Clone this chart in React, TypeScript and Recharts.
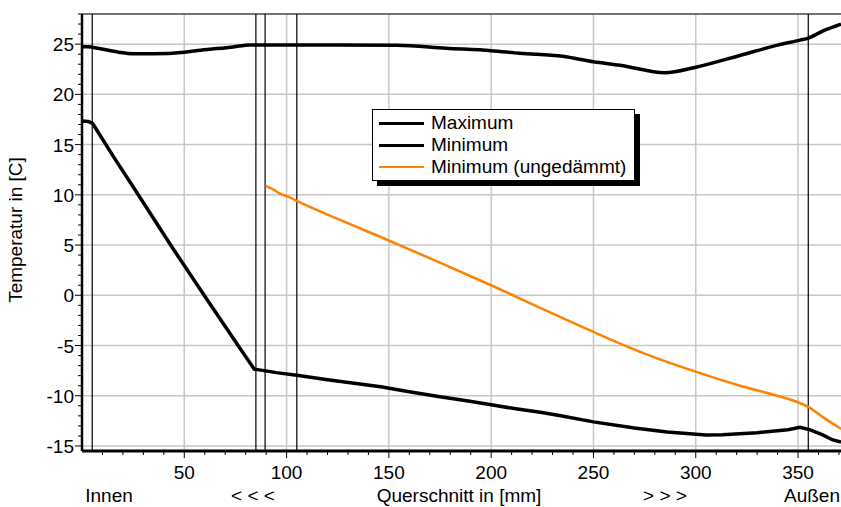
import React from "react";
import {
  LineChart,
  Line,
  XAxis,
  YAxis,
  ReferenceLine,
  Legend,
} from "recharts";

// ─── Data ───────────────────────────────────────────────────────────────────

const maxPos = [0, 3, 5, 9, 18, 25, 35, 50, 58, 74, 82, 100, 125, 154, 178, 200, 214, 235, 250, 263, 285, 300, 322, 340, 351, 355, 362, 371];
const maxTemp = [24.75, 24.75, 24.7, 24.55, 24.2, 24.05, 24.05, 24.2, 24.4, 24.72, 24.92, 24.92, 24.92, 24.9, 24.6, 24.35, 24.1, 23.8, 23.25, 22.9, 22.15, 22.7, 23.9, 24.9, 25.4, 25.6, 26.3, 27.0];

const minPos = [0, 3, 5.2, 16, 27.2, 43, 59.7, 76.3, 84.2, 89, 95, 105, 120, 146, 160, 175, 188, 200, 212, 224, 234, 250, 270, 286, 305, 313, 330, 345, 351, 356, 362, 367, 371];
const minTemp = [17.35, 17.3, 17.1, 13.6, 10.1, 5.1, 0, -5, -7.35, -7.5, -7.7, -7.95, -8.4, -9.1, -9.6, -10.1, -10.5, -10.9, -11.3, -11.65, -12.0, -12.6, -13.2, -13.6, -13.9, -13.88, -13.68, -13.38, -13.15, -13.4, -13.9, -14.4, -14.6];

const bareMinPos = [89.7, 93, 97, 101, 105, 125, 146, 175, 200, 225, 250, 275, 300, 320, 338, 345, 350, 355, 362, 371];
const bareMinTemp = [10.9, 10.6, 10.1, 9.8, 9.4, 7.6, 5.8, 3.25, 1.0, -1.35, -3.65, -5.8, -7.6, -8.9, -9.9, -10.3, -10.65, -11.1, -12.1, -13.3];

// layer boundaries of the wall cross-section [mm]
const layerBounds = [5, 85, 89.5, 105, 355];

const xLabels = [50, 100, 150, 200, 250, 300, 350];
const yLabels = [-15, -10, -5, 0, 5, 10, 15, 20, 25];
const xMinorTicks = Array.from({ length: 37 }, (_, i) => (i + 1) * 10);
const yMinorTicks = Array.from({ length: 44 }, (_, i) => i - 15);

const bottomLabels = ["Innen", "< < <", "Querschnitt in [mm]", "> > >", "Außen"];
const bottomLabelOffsets = [27, 171, 377, 583, 730];

const toPoints = (xs: number[], ys: number[]) => xs.map((x, i) => ({ x, y: ys[i] }));

const maxData = toPoints(maxPos, maxTemp);
const minData = toPoints(minPos, minTemp);
const bareMinData = toPoints(bareMinPos, bareMinTemp);

const FONT = "'Liberation Sans', Arial, sans-serif";
const ORANGE = "#ff8200";

// ─── Ticks & labels ─────────────────────────────────────────────────────────

function XTick({ x, y, payload }: any) {
  const major = xLabels.includes(payload.value);
  return (
    <g>
      <line x1={x} x2={x} y1={y} y2={y + (major ? 7 : 4)} stroke="#000" strokeWidth={1} />
      {major && (
        <text x={x} y={y + 28} textAnchor="middle" fontFamily={FONT} fontSize={19} fill="#000">
          {payload.value}
        </text>
      )}
    </g>
  );
}

function YTick({ x, y, payload }: any) {
  const major = yLabels.includes(payload.value);
  return (
    <g>
      <line x1={x - (major ? 7 : 4)} x2={x} y1={y} y2={y} stroke="#000" strokeWidth={1} />
      {major && (
        <text x={x - 8} y={y + 7} textAnchor="end" fontFamily={FONT} fontSize={19} fill="#000">
          {payload.value}
        </text>
      )}
    </g>
  );
}

function BottomRow({ viewBox }: any) {
  const { x, y } = viewBox;
  return (
    <g>
      {bottomLabels.map((t, i) => (
        <text key={t} x={x + bottomLabelOffsets[i]} y={y + 51} textAnchor="middle" fontFamily={FONT} fontSize={19} fill="#000">
          {t}
        </text>
      ))}
    </g>
  );
}

function YTitle({ viewBox }: any) {
  const cx = viewBox.x + 22;
  const cy = viewBox.y + 216;
  return (
    <text x={cx} y={cy} transform={`rotate(-90 ${cx} ${cy})`} textAnchor="middle" fontFamily={FONT} fontSize={19} fill="#000">
      Temperatur in [C]
    </text>
  );
}

function LegendBox({ payload }: any) {
  return (
    <div
      style={{
        width: 263,
        height: 72,
        boxSizing: "border-box",
        border: "1px solid #000",
        background: "#fff",
        boxShadow: "5px 5px 0 #000",
        padding: "2px 0 2px 6px",
        fontFamily: FONT,
        fontSize: 19,
        color: "#000",
        textAlign: "left",
      }}
    >
      {(payload ?? []).map((entry: any) => {
        const w = entry.value === "Minimum (ungedämmt)" ? 2.5 : 3.5;
        return (
          <div key={entry.value} style={{ display: "flex", alignItems: "center", height: 22 }}>
            <span style={{ display: "inline-block", width: 45, borderTop: `${w}px solid ${entry.color}`, marginRight: 7 }} />
            <span style={{ lineHeight: "22px", whiteSpace: "nowrap" }}>{entry.value}</span>
          </div>
        );
      })}
    </div>
  );
}

// ─── Chart ──────────────────────────────────────────────────────────────────

export default function App() {
  return (
    <div style={{ position: "absolute", left: 0, top: 0, width: 841, height: 507, background: "#fff" }}>
      <LineChart width={841} height={507} margin={{ top: 14, right: 0, bottom: 0, left: 0 }}>
        <XAxis
          type="number"
          dataKey="x"
          domain={[0, 371]}
          ticks={xMinorTicks}
          interval={0}
          allowDataOverflow
          height={56}
          tickSize={0}
          tickMargin={0}
          tickLine={false}
          axisLine={{ stroke: "#000", strokeWidth: 3 }}
          tick={<XTick />}
          label={<BottomRow />}
        />
        <YAxis
          type="number"
          dataKey="y"
          domain={[-15.5, 28]}
          ticks={yMinorTicks}
          interval={0}
          allowDataOverflow
          width={82}
          tickSize={0}
          tickMargin={0}
          tickLine={false}
          axisLine={{ stroke: "#000", strokeWidth: 2.5 }}
          tick={<YTick />}
          label={<YTitle />}
        />

        {xLabels.map((v) => (
          <ReferenceLine key={`gx${v}`} x={v} stroke="#c8c8c8" strokeWidth={1.5} />
        ))}
        {yLabels.map((v) => (
          <ReferenceLine key={`gy${v}`} y={v} stroke="#c8c8c8" strokeWidth={1.5} />
        ))}
        <ReferenceLine y={28} stroke="#444" strokeWidth={1.5} />
        {layerBounds.map((v) => (
          <ReferenceLine key={`lb${v}`} x={v} stroke="#000" strokeWidth={1.2} />
        ))}

        <Line data={maxData} dataKey="y" name="Maximum" type="monotone" stroke="#000" strokeWidth={3.5} dot={false} isAnimationActive={false} />
        <Line data={minData} dataKey="y" name="Minimum" type="linear" stroke="#000" strokeWidth={3.5} dot={false} isAnimationActive={false} />
        <Line data={bareMinData} dataKey="y" name="Minimum (ungedämmt)" type="monotone" stroke={ORANGE} strokeWidth={2.5} dot={false} isAnimationActive={false} />

        <Legend
          layout="horizontal"
          verticalAlign="middle"
          align="center"
          content={<LegendBox />}
          wrapperStyle={{ left: 372, top: 109, width: 263, height: 72 }}
        />
      </LineChart>
    </div>
  );
}
